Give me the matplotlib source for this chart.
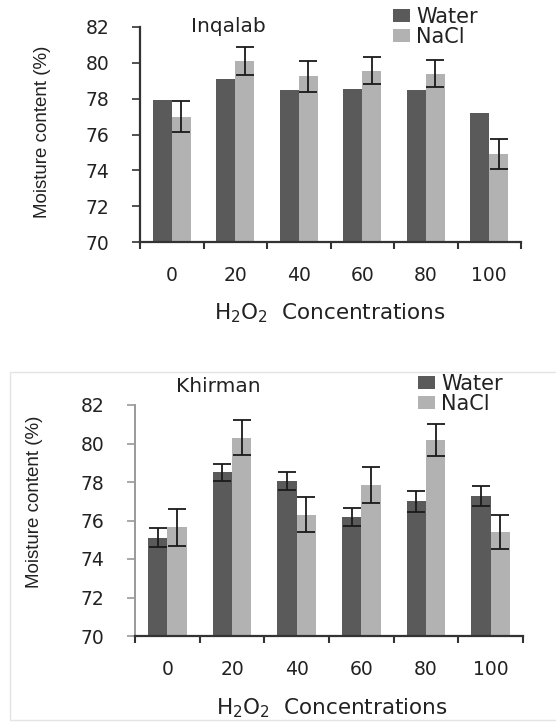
import numpy as np
import matplotlib
matplotlib.use("Agg")
import matplotlib.pyplot as plt
from matplotlib.lines import Line2D
from matplotlib.ticker import FixedLocator

# ---- data ----
concentrations = ["0", "20", "40", "60", "80", "100"]
yticks = [70, 72, 74, 76, 78, 80, 82]

inq_water = [77.9, 79.1, 78.5, 78.55, 78.5, 77.2]
inq_nacl = [77.0, 80.1, 79.25, 79.55, 79.4, 74.9]
inq_nacl_err = [0.85, 0.8, 0.85, 0.75, 0.75, 0.85]

khi_water = [75.1, 78.5, 78.05, 76.2, 77.0, 77.25]
khi_water_err = [0.5, 0.45, 0.45, 0.47, 0.55, 0.52]
khi_nacl = [75.65, 80.3, 76.3, 77.85, 80.2, 75.4]
khi_nacl_err = [0.95, 0.9, 0.9, 0.92, 0.83, 0.88]

WATER_C = "#5a5a5a"
NACL_C = "#b2b2b2"

plt.rcParams["font.family"] = ["DejaVu Sans"]
W, H = 556, 723
fig = plt.figure(figsize=(W / 100, H / 100), dpi=100)


def fx(px):
    return px / W


def fy(py):
    return 1 - py / H


def draw(ax_rect, water, water_err, nacl, nacl_err, yspine_color, title, title_xy,
         leg_xy, ylab_xy, xlab_xy):
    l, r, t, b = ax_rect
    ax = fig.add_axes([fx(l), fy(b), fx(r) - fx(l), fy(t) - fy(b)])
    x = np.arange(len(concentrations))
    w = 0.3
    ax.bar(x - w / 2, water, width=w, color=WATER_C, label="Water", zorder=2)
    ax.bar(x + w / 2, nacl, width=w, color=NACL_C, label="NaCl", zorder=2)
    if water_err is not None:
        ax.errorbar(x - w / 2, water, yerr=water_err, fmt="none", ecolor="#1a1a1a",
                    elinewidth=1.3, capsize=6.5, capthick=1.3, zorder=3)
    ax.errorbar(x + w / 2, nacl, yerr=nacl_err, fmt="none", ecolor="#1a1a1a",
                elinewidth=1.3, capsize=6.5, capthick=1.3, zorder=3)
    ax.set_xlim(-0.5, len(concentrations) - 0.5)
    ax.set_ylim(70, 82)
    ax.set_yticks(yticks)
    ax.set_yticklabels([str(v) for v in yticks])
    ax.set_xticks(x)
    ax.set_xticklabels(concentrations)
    ax.xaxis.set_minor_locator(FixedLocator(np.arange(-0.5, len(concentrations), 1.0)))
    ax.tick_params(axis="x", which="major", length=0, pad=17, labelsize=13.5, labelcolor="#222222")
    ax.tick_params(axis="x", which="minor", length=5, width=1.5, direction="out", color="#333333")
    ax.tick_params(axis="y", length=6, width=1.2, direction="out", pad=16, labelsize=13.5,
                   labelcolor="#222222", color=yspine_color)
    for s in ["top", "right"]:
        ax.spines[s].set_visible(False)
    ax.spines["bottom"].set_color("#333333")
    ax.spines["bottom"].set_linewidth(1.6)
    ax.spines["left"].set_color(yspine_color)
    ax.spines["left"].set_linewidth(1.4 if yspine_color != "#333333" else 1.6)
    ax.set_facecolor("none")

    fig.text(fx(title_xy[0]), fy(title_xy[1]), title, ha="center", va="center",
             fontsize=14.5, color="#222222")
    ax.legend(loc="center left", bbox_to_anchor=(fx(leg_xy[0]), fy(leg_xy[1])),
              bbox_transform=fig.transFigure, frameon=False, fontsize=15,
              handlelength=0.8, handleheight=0.6, handletextpad=0.3,
              labelspacing=0.0, borderpad=0, borderaxespad=0, labelcolor="#222222")
    fig.text(fx(ylab_xy[0]), fy(ylab_xy[1]), "Moisture content (%)", rotation=90,
             ha="center", va="center", fontsize=13.5, color="#222222",
             family=["Liberation Sans Narrow", "Liberation Sans"])
    fig.text(fx(xlab_xy[0]), fy(xlab_xy[1]), r"H$_2$O$_2$  Concentrations",
             ha="center", va="center", fontsize=15.5, color="#222222")
    return ax


draw((140, 521, 27, 242), inq_water, None, inq_nacl, inq_nacl_err, "#333333",
     "Inqalab", (228, 26), (393, 27), (43, 132), (330, 313))

draw((135, 523, 405, 636), khi_water, khi_water_err, khi_nacl, khi_nacl_err, "#9a9a9a",
     "Khirman", (218, 387), (418, 394), (35, 502), (332, 708))

# faint frame (top, left, bottom) around the lower panel
frame_x = [fx(W + 20), fx(10), fx(10), fx(W + 20)]
frame_y = [fy(372), fy(372), fy(720), fy(720)]
fig.lines.append(Line2D(frame_x, frame_y, transform=fig.transFigure,
                        color="#e4e4e4", linewidth=1, zorder=0))

fig.savefig("out.png", dpi=100, facecolor="white")
